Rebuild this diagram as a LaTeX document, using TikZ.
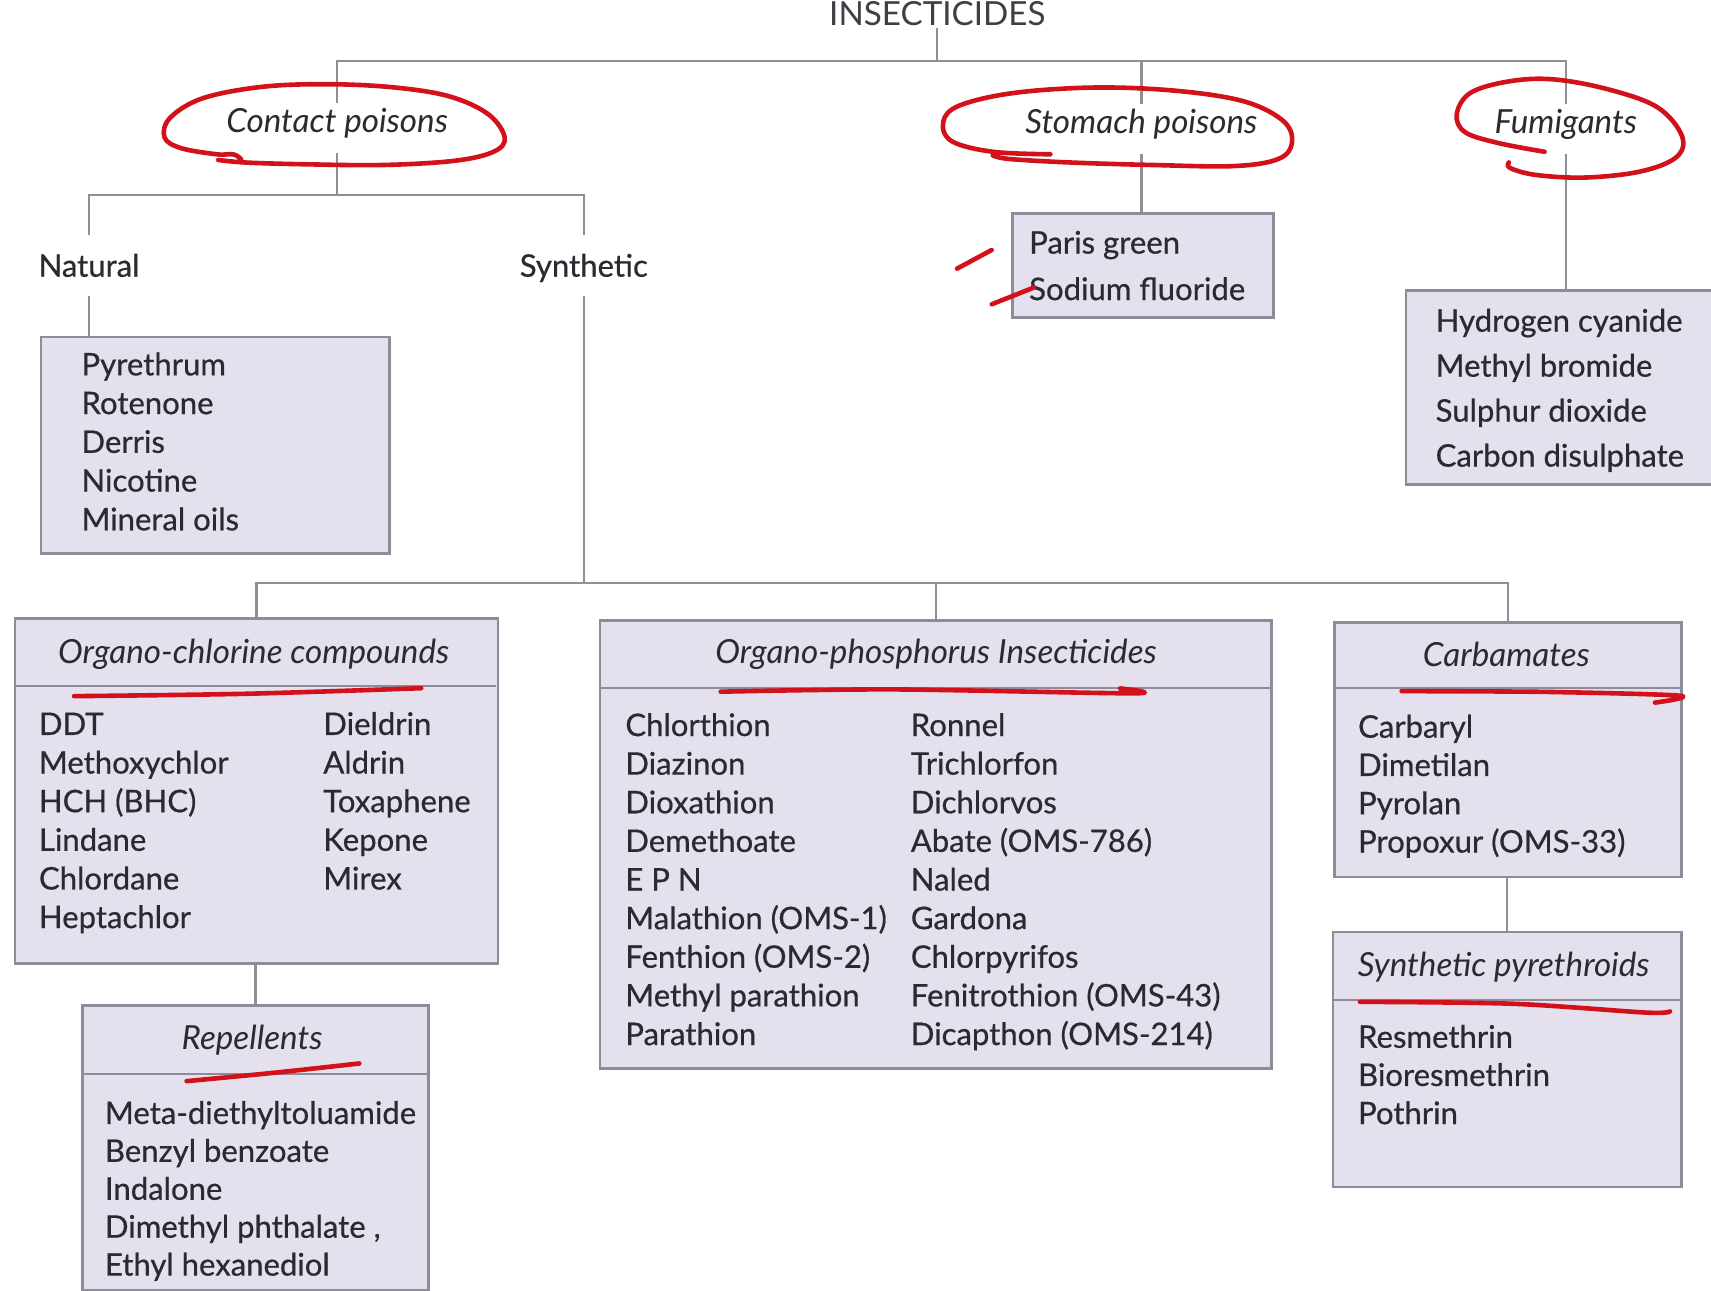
\documentclass[tikz,border=0pt]{standalone}
\usepackage{fontspec}
\setmainfont{Lato}
\newfontfamily\heavyface{Lato}[FakeBold=0.6]
\definecolor{boxfill}{HTML}{E4E0EE}
\definecolor{boxline}{HTML}{8E8B9A}
\definecolor{wire}{HTML}{8F8F97}
\definecolor{ink}{HTML}{2A2A30}
\definecolor{pen}{HTML}{D3111B}
\newcommand\lstfont{\heavyface\fontsize{8.1}{9}\selectfont}
\newcommand\hdfont{\fontsize{8.65}{9}\selectfont\itshape}
\newcommand\ttlfont{\fontsize{8.65}{9}\selectfont}
\begin{document}
\begin{tikzpicture}[x=0.01cm, y=-0.01cm,
  panel/.style={draw=boxline, fill=boxfill, line width=0.7pt, anchor=north west, inner sep=0pt},
  rule/.style={draw=boxline, line width=0.6pt},
  wireline/.style={draw=wire, line width=0.6pt},
  item/.style={anchor=base west, inner sep=0pt, text=ink, font=\lstfont},
  boxhead/.style={anchor=base, inner sep=0pt, text=ink, font=\hdfont},
  grouphead/.style={anchor=base, inner xsep=0pt, inner ysep=1.6pt, text height=6pt, text depth=3.5pt, text=ink, font=\hdfont},
  branch/.style={anchor=base, inner xsep=0pt, inner ysep=4.7pt, text height=6pt, text depth=0pt, text=ink, font=\lstfont},
  redpen/.style={draw=pen, line width=1.2pt, line cap=round, line join=round}]

\useasboundingbox (0,0) rectangle (1568,1183);
\fill[white] (0,0) rectangle (1568,1183);
\clip (0,0) rectangle (1568,1183);

% bus levels of the tree
\coordinate (topbus) at (0,56);
\coordinate (cbus) at (0,178.4);
\coordinate (sbus) at (0,534.5);

% title and the three main groups
\node[anchor=base, inner xsep=0pt, inner ysep=0.6pt, text height=6pt, text depth=0pt, text=ink!90, font=\ttlfont] (title) at (859,23) {INSECTICIDES};
\node[grouphead] (contact) at (309,121.8) {Contact poisons};
\node[grouphead] (stomach) at (1046,122.6) {Stomach poisons};
\node[grouphead] (fumig) at (1435,122.6) {Fumigants};

\node[branch] (natural) at (81.6,253.6) {Natural};
\node[branch] (synth) at (535,253.6) {Synthetic};

% boxes
\node[panel, minimum width=3.196cm, minimum height=1.981cm] (natbox) at (36.2,307.6) {};
\node[panel, minimum width=2.389cm, minimum height=0.949cm] (stombox) at (926.5,194.7) {};
\node[panel, minimum width=3.127cm, minimum height=1.780cm] (fumbox) at (1287.3,265) {};
\node[panel, minimum width=4.424cm, minimum height=3.160cm] (ocbox) at (12.6,565.6) {};
\node[panel, minimum width=3.166cm, minimum height=2.606cm] (repbox) at (74.4,920.4) {};
\node[panel, minimum width=6.149cm, minimum height=4.099cm] (opbox) at (548.7,567.6) {};
\node[panel, minimum width=3.177cm, minimum height=2.333cm] (carbox) at (1221.9,569) {};
\node[panel, minimum width=3.192cm, minimum height=2.334cm] (spbox) at (1220.4,853) {};

% header rules inside the boxes
\draw[rule] (12.6,628.7) -- (455,628.7);
\draw[rule] (74.4,984.5) -- (391,984.5);
\draw[rule] (548.7,630.8) -- (1163.6,630.8);
\draw[rule] (1221.9,630.5) -- (1539.6,630.5);
\draw[rule] (1220.4,916.4) -- (1539.6,916.4);

% box headings
\node[boxhead] (ochead) at (232.5,608) {Organo-chlorine compounds};
\node[boxhead] (rephead) at (231,961.8) {Repellents};
\node[boxhead] (ophead) at (857.8,607.9) {Organo-phosphorus Insecticides};
\node[boxhead] (carhead) at (1380.5,611) {Carbamates};
\node[boxhead] (sphead) at (1378,895.3) {Synthetic pyrethroids};

% box contents
\foreach \t [count=\i from 0] in {{Pyrethrum},{Rotenone},{Derris},{Nicotine},{Mineral oils}}
  \node[item] (nat-\i) at (74,{344+35.5*\i}) {\t};
\foreach \t [count=\i from 0] in {{Paris green},{Sodium fluoride}}
  \node[item] (sto-\i) at (942.5,{232.4+42.6*\i}) {\t};
\foreach \t [count=\i from 0] in {{Hydrogen cyanide},{Methyl bromide},{Sulphur dioxide},{Carbon disulphate}}
  \node[item] (fum-\i) at (1315,{304+41.2*\i}) {\t};
\foreach \t [count=\i from 0] in {{DDT},{Methoxychlor},{HCH (BHC)},{Lindane},{Chlordane},{Heptachlor}}
  \node[item] (ocl-\i) at (35,{673.5+35.4*\i}) {\t};
\foreach \t [count=\i from 0] in {{Dieldrin},{Aldrin},{Toxaphene},{Kepone},{Mirex}}
  \node[item] (ocr-\i) at (295.6,{673.5+35.4*\i}) {\t};
\foreach \t [count=\i from 0] in {{Meta-diethyltoluamide},{Benzyl benzoate},{Indalone},{Dimethyl phthalate ,},{Ethyl hexanediol}}
  \node[item] (rep-\i) at (95.5,{1030+34.75*\i}) {\t};
\foreach \t [count=\i from 0] in {{Chlorthion},{Diazinon},{Dioxathion},{Demethoate},{E P N},{Malathion (OMS-1)},{Fenthion (OMS-2)},{Methyl parathion},{Parathion}}
  \node[item] (opl-\i) at (572.4,{674.5+35.4*\i}) {\t};
\foreach \t [count=\i from 0] in {{Ronnel},{Trichlorfon},{Dichlorvos},{Abate (OMS-786)},{Naled},{Gardona},{Chlorpyrifos},{Fenitrothion (OMS-43)},{Dicapthon (OMS-214)}}
  \node[item] (opr-\i) at (834,{674.5+35.4*\i}) {\t};
\foreach \t [count=\i from 0] in {{Carbaryl},{Dimetilan},{Pyrolan},{Propoxur (OMS-33)}}
  \node[item] (car-\i) at (1243.9,{676+35.1*\i}) {\t};
\foreach \t [count=\i from 0] in {{Resmethrin},{Bioresmethrin},{Pothrin}}
  \node[item] (spy-\i) at (1243.9,{960.2+35*\i}) {\t};

% connectors
\draw[wireline] (title.south) -- (title.south |- topbus);
\draw[wireline] (contact.north) -- (contact.north |- topbus) -- (fumig.north |- topbus) -- (fumig.north);
\draw[wireline] (stomach.north) -- (stomach.north |- topbus);
\draw[wireline] (contact.south) -- (contact.south |- cbus);
\draw[wireline] (natural.north) -- (natural.north |- cbus) -- (synth.north |- cbus) -- (synth.north);
\draw[wireline] (natural.south) -- (natural.south |- natbox.north);
\draw[wireline] (stomach.south) -- (stomach.south |- stombox.north);
\draw[wireline] (fumig.south) -- (fumig.south |- fumbox.north);
\draw[wireline] (synth.south) -- (synth.south |- sbus);
\draw[wireline] (ocbox.north) -- (ocbox.north |- sbus) -- (carbox.north |- sbus) -- (carbox.north);
\draw[wireline] (opbox.north) -- (opbox.north |- sbus);
\draw[wireline] (repbox.north) -- (repbox.north |- ocbox.south);
\draw[wireline] (spbox.north) -- (spbox.north |- carbox.south);

% hand-drawn red marks
\draw[redpen] plot[smooth, tension=0.6] coordinates {(221,146) (214,141.5) (198.6,141.4) (166,135.8) (150.8,126) (155.9,108) (186,90) (241,79.5) (301.7,77.2) (362,80.2) (412,88.4) (447.5,104.7) (462.5,126) (452.5,139) (417,147.3) (352,151.2) (281.5,150.6) (226,149) (200,146.6)};
\draw[redpen] plot[smooth, tension=0.6] coordinates {(962.6,141.4) (909.8,139.1) (872,129.3) (864.5,111.3) (879.6,96.6) (929.9,85.1) (1005.4,80.2) (1080.9,83.5) (1141.3,93.3) (1176.5,111.3) (1184,131) (1171.5,145.7) (1131.2,152.2) (1055.7,151.2) (980.2,148.9) (924.9,145.7) (909.8,142.4)};
\draw[redpen] plot[smooth, tension=0.6] coordinates {(1415.5,139.1) (1372.7,131) (1342.6,121.1) (1335,104.7) (1347.6,85.1) (1382.8,74.6) (1423.1,72.7) (1473.4,81.8) (1518.7,98.2) (1541.3,124.4) (1536.3,144) (1503.6,157.1) (1453.3,162.7) (1408,160.4) (1384,154) (1382.8,148.9)};
\draw[redpen] (877.1,246.2) -- (908.8,229.1);
\draw[redpen] (908.8,278.9) -- (947.5,263.5);
\draw[redpen] plot[smooth] coordinates {(67.9,638) (226,635.8) (386,630.7)};
\draw[redpen] plot[smooth] coordinates {(171,990.8) (251.4,983.1) (329.3,974.6)};
\draw[redpen] plot[smooth] coordinates {(660.4,633.9) (817.9,631.8) (1038.8,635.4) (1026.5,630.9)};
\draw[redpen] plot[smooth] coordinates {(1284.5,633.4) (1417.4,634.1) (1539.6,637.6) (1516.7,643.9)};
\draw[redpen] plot[smooth] coordinates {(1246.3,918.1) (1386.9,919.9) (1509,928) (1530.4,926.9)};
\end{tikzpicture}
\end{document}
